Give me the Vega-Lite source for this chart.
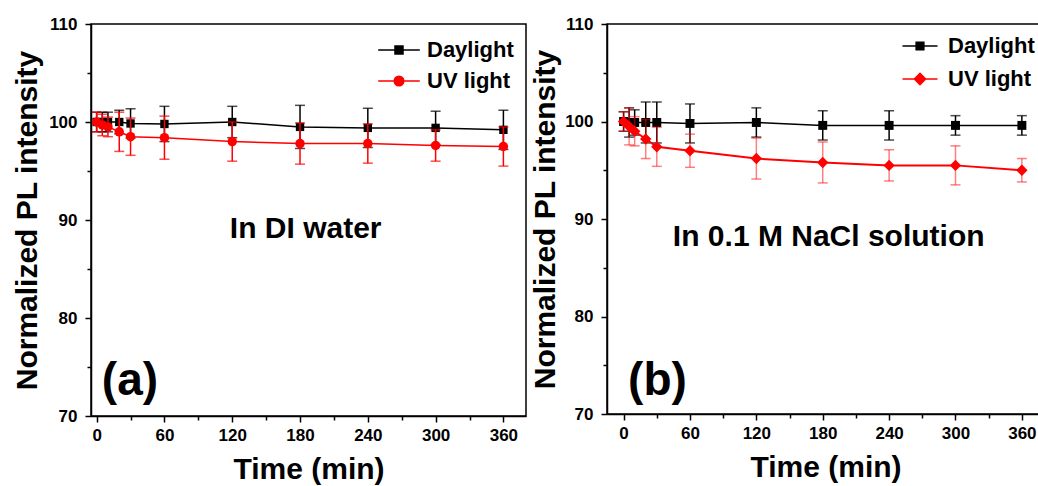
{
  "$schema": "https://vega.github.io/schema/vega-lite/v6.json",
  "background": "white",
  "padding": {"left": 11, "top": 14, "right": 0, "bottom": 0},
  "bounds": "flush",
  "spacing": 81,
  "resolve": {
    "scale": {"color": "independent", "shape": "independent", "stroke": "independent"},
    "legend": {"color": "independent", "shape": "independent", "stroke": "independent"}
  },
  "datasets": {
    "pl": [
      {"panel": "a", "series": "Daylight", "time": 0, "value": 100.0, "err": 1.0},
      {"panel": "a", "series": "Daylight", "time": 5, "value": 100.0, "err": 1.0},
      {"panel": "a", "series": "Daylight", "time": 10, "value": 100.0, "err": 1.0},
      {"panel": "a", "series": "Daylight", "time": 20, "value": 100.0, "err": 1.2},
      {"panel": "a", "series": "Daylight", "time": 30, "value": 99.85, "err": 1.5},
      {"panel": "a", "series": "Daylight", "time": 60, "value": 99.8, "err": 1.8},
      {"panel": "a", "series": "Daylight", "time": 120, "value": 100.0, "err": 1.6},
      {"panel": "a", "series": "Daylight", "time": 180, "value": 99.5, "err": 2.2},
      {"panel": "a", "series": "Daylight", "time": 240, "value": 99.4, "err": 2.0},
      {"panel": "a", "series": "Daylight", "time": 300, "value": 99.4, "err": 1.7},
      {"panel": "a", "series": "Daylight", "time": 360, "value": 99.2, "err": 2.0},
      {"panel": "a", "series": "UV light", "time": 0, "value": 100.0, "err": 1.0},
      {"panel": "a", "series": "UV light", "time": 5, "value": 99.7, "err": 1.1},
      {"panel": "a", "series": "UV light", "time": 10, "value": 99.5, "err": 1.0},
      {"panel": "a", "series": "UV light", "time": 20, "value": 99.0, "err": 2.0},
      {"panel": "a", "series": "UV light", "time": 30, "value": 98.5, "err": 1.9},
      {"panel": "a", "series": "UV light", "time": 60, "value": 98.4, "err": 2.2},
      {"panel": "a", "series": "UV light", "time": 120, "value": 98.0, "err": 2.0},
      {"panel": "a", "series": "UV light", "time": 180, "value": 97.8, "err": 2.1},
      {"panel": "a", "series": "UV light", "time": 240, "value": 97.8, "err": 2.0},
      {"panel": "a", "series": "UV light", "time": 300, "value": 97.6, "err": 1.6},
      {"panel": "a", "series": "UV light", "time": 360, "value": 97.5, "err": 2.0},
      {"panel": "a", "series": "note", "label": "In DI water", "time": 185, "value": 88.2},
      {"panel": "a", "series": "tag", "label": "(a)", "time": 29.5, "value": 72.1},
      {"panel": "b", "series": "Daylight", "time": 0, "value": 100.0, "err": 1.0},
      {"panel": "b", "series": "Daylight", "time": 5, "value": 99.9, "err": 1.5},
      {"panel": "b", "series": "Daylight", "time": 10, "value": 99.9, "err": 1.3},
      {"panel": "b", "series": "Daylight", "time": 20, "value": 99.9, "err": 2.1},
      {"panel": "b", "series": "Daylight", "time": 30, "value": 99.9, "err": 2.1},
      {"panel": "b", "series": "Daylight", "time": 60, "value": 99.8, "err": 2.0},
      {"panel": "b", "series": "Daylight", "time": 120, "value": 99.9, "err": 1.5},
      {"panel": "b", "series": "Daylight", "time": 180, "value": 99.6, "err": 1.5},
      {"panel": "b", "series": "Daylight", "time": 240, "value": 99.6, "err": 1.5},
      {"panel": "b", "series": "Daylight", "time": 300, "value": 99.6, "err": 1.0},
      {"panel": "b", "series": "Daylight", "time": 360, "value": 99.6, "err": 1.0},
      {"panel": "b", "series": "UV light", "time": 0, "value": 100.0, "err": 1.0},
      {"panel": "b", "series": "UV light", "time": 5, "value": 99.5, "err": 1.9},
      {"panel": "b", "series": "UV light", "time": 10, "value": 99.0, "err": 1.5},
      {"panel": "b", "series": "UV light", "time": 20, "value": 98.2, "err": 2.0},
      {"panel": "b", "series": "UV light", "time": 30, "value": 97.4, "err": 2.0},
      {"panel": "b", "series": "UV light", "time": 60, "value": 97.0, "err": 1.7},
      {"panel": "b", "series": "UV light", "time": 120, "value": 96.2, "err": 2.1},
      {"panel": "b", "series": "UV light", "time": 180, "value": 95.8, "err": 2.1},
      {"panel": "b", "series": "UV light", "time": 240, "value": 95.5, "err": 1.6},
      {"panel": "b", "series": "UV light", "time": 300, "value": 95.5, "err": 2.0},
      {"panel": "b", "series": "UV light", "time": 360, "value": 95.0, "err": 1.2},
      {"panel": "b", "series": "note", "label": "In 0.1 M NaCl solution", "time": 185.4, "value": 87.2},
      {"panel": "b", "series": "tag", "label": "(b)", "time": 30.6, "value": 72.0}
    ]
  },
  "config": {
    "font": "Liberation Sans",
    "view": {"stroke": "black", "strokeWidth": 1.5},
    "axis": {
      "grid": false,
      "domainColor": "black",
      "domainWidth": 1.5,
      "tickColor": "black",
      "tickWidth": 1.5,
      "labelFont": "Liberation Sans",
      "labelFontSize": 17,
      "labelFontWeight": "bold",
      "labelColor": "black",
      "titleFont": "Liberation Sans",
      "titleFontSize": 30,
      "titleFontWeight": "bold",
      "titleColor": "black"
    },
    "legend": {
      "title": null,
      "padding": 0,
      "labelFont": "Liberation Sans",
      "labelFontSize": 22,
      "labelFontWeight": "bold",
      "labelColor": "black",
      "symbolStrokeWidth": 1.5,
      "labelOffset": 17
    }
  },
  "hconcat": [
    {
      "width": 435,
      "height": 392,
      "data": {"name": "pl"},
      "transform": [{"filter": "datum.panel === 'a'"}],
      "encoding": {
        "x": {
          "field": "time", "type": "quantitative",
          "scale": {"domain": [-5, 380], "nice": false, "zero": false},
          "axis": {
            "title": "Time (min)",
            "values": [0, 30, 60, 90, 120, 150, 180, 210, 240, 270, 300, 330, 360],
            "labelExpr": "datum.value % 60 === 0 ? datum.label : ''",
            "tickSize": {"condition": {"test": "datum.value % 60 === 0", "value": 6}, "value": 4},
            "labelPadding": 5,
            "titlePadding": 11,
            "labelFlush": false
          }
        },
        "y": {
          "field": "value", "type": "quantitative",
          "scale": {"domain": [70, 110], "nice": false, "zero": false},
          "axis": {
            "title": "Normalized PL intensity",
            "values": [70, 75, 80, 85, 90, 95, 100, 105, 110],
            "labelExpr": "datum.value % 10 === 0 ? datum.label : ''",
            "tickSize": {"condition": {"test": "datum.value % 10 === 0", "value": 6}, "value": 4},
            "labelPadding": 8,
            "titlePadding": 6,
            "labelFlush": false
          }
        }
      },
      "layer": [
        {
          "transform": [{"filter": "datum.series === 'Daylight'"}],
          "mark": {"type": "line", "color": "black", "strokeWidth": 1.5}
        },
        {
          "transform": [{"filter": "datum.series === 'Daylight'"}],
          "mark": {"type": "errorbar", "ticks": {"size": 10}, "color": "black", "thickness": 1.5},
          "encoding": {"yError": {"field": "err"}}
        },
        {
          "transform": [{"filter": "datum.series === 'Daylight'"}],
          "mark": {"type": "point", "shape": "square", "filled": true, "color": "black", "size": 70, "opacity": 1}
        },
        {
          "transform": [{"filter": "datum.series === 'UV light'"}],
          "mark": {"type": "line", "color": "#ff0000", "strokeWidth": 1.5}
        },
        {
          "transform": [{"filter": "datum.series === 'UV light'"}],
          "mark": {"type": "errorbar", "ticks": {"size": 10}, "color": "#ff0000", "thickness": 1.5},
          "encoding": {"yError": {"field": "err"}}
        },
        {
          "transform": [{"filter": "datum.series === 'UV light'"}],
          "mark": {"type": "point", "shape": "circle", "filled": true, "color": "#ff0000", "size": 90, "opacity": 1}
        },
        {
          "transform": [{"filter": "false"}],
          "mark": {"type": "point", "filled": true, "opacity": 1, "strokeWidth": 1.5},
          "encoding": {
            "color": {
              "field": "series", "type": "nominal",
              "scale": {"domain": ["Daylight", "UV light"], "range": ["black", "#ff0000"]},
              "legend": {"orient": "none", "legendX": 297, "legendY": 15, "symbolSize": 256, "rowPadding": 9}
            },
            "stroke": {
              "field": "series", "type": "nominal",
              "scale": {"domain": ["Daylight", "UV light"], "range": ["black", "#ff0000"]},
              "legend": {"orient": "none", "legendX": 297, "legendY": 15, "symbolSize": 256, "rowPadding": 9}
            },
            "shape": {
              "field": "series", "type": "nominal",
              "scale": {"domain": ["Daylight", "UV light"], "range": [
                "M-2.6,0H2.6M-0.5,-0.5H0.5V0.5H-0.5Z",
                "M-2.6,0H2.6M0.6,0A0.6,0.6 0 1,1 -0.6,0A0.6,0.6 0 1,1 0.6,0Z"
              ]},
              "legend": {"orient": "none", "legendX": 297, "legendY": 15, "symbolSize": 256, "rowPadding": 9}
            }
          }
        },
        {
          "transform": [{"filter": "datum.series === 'note'"}],
          "mark": {"type": "text", "fontSize": 30, "fontWeight": "bold", "font": "Liberation Sans", "align": "center", "baseline": "alphabetic", "color": "black"},
          "encoding": {"text": {"field": "label"}}
        },
        {
          "transform": [{"filter": "datum.series === 'tag'"}],
          "mark": {"type": "text", "fontSize": 46, "fontWeight": "bold", "font": "Liberation Sans", "align": "center", "baseline": "alphabetic", "color": "black"},
          "encoding": {"text": {"field": "label"}}
        }
      ]
    },
    {
      "width": 437,
      "height": 390,
      "data": {"name": "pl"},
      "transform": [{"filter": "datum.panel === 'b'"}],
      "encoding": {
        "x": {
          "field": "time", "type": "quantitative",
          "scale": {"domain": [-15, 380], "nice": false, "zero": false},
          "axis": {
            "title": "Time (min)",
            "values": [0, 30, 60, 90, 120, 150, 180, 210, 240, 270, 300, 330, 360],
            "labelExpr": "datum.value % 60 === 0 ? datum.label : ''",
            "tickSize": {"condition": {"test": "datum.value % 60 === 0", "value": 6}, "value": 4},
            "labelPadding": 5,
            "titlePadding": 11,
            "labelFlush": false
          }
        },
        "y": {
          "field": "value", "type": "quantitative",
          "scale": {"domain": [70, 110], "nice": false, "zero": false},
          "axis": {
            "title": "Normalized PL intensity",
            "values": [70, 75, 80, 85, 90, 95, 100, 105, 110],
            "labelExpr": "datum.value % 10 === 0 ? datum.label : ''",
            "tickSize": {"condition": {"test": "datum.value % 10 === 0", "value": 6}, "value": 4},
            "labelPadding": 8,
            "titlePadding": 4,
            "labelFlush": false
          }
        }
      },
      "layer": [
        {
          "transform": [{"filter": "datum.series === 'Daylight'"}],
          "mark": {"type": "line", "color": "black", "strokeWidth": 1.5}
        },
        {
          "transform": [{"filter": "datum.series === 'Daylight'"}],
          "mark": {"type": "errorbar", "ticks": {"size": 10}, "color": "black", "thickness": 1.5},
          "encoding": {"yError": {"field": "err"}}
        },
        {
          "transform": [{"filter": "datum.series === 'Daylight'"}],
          "mark": {"type": "point", "shape": "square", "filled": true, "color": "black", "size": 80, "opacity": 1}
        },
        {
          "transform": [{"filter": "datum.series === 'UV light'"}],
          "mark": {"type": "line", "color": "#ff0000", "strokeWidth": 2}
        },
        {
          "transform": [{"filter": "datum.series === 'UV light'"}],
          "mark": {"type": "errorbar", "ticks": {"size": 10}, "color": "#ff0000", "thickness": 1.5, "opacity": 0.5},
          "encoding": {"yError": {"field": "err"}}
        },
        {
          "transform": [{"filter": "datum.series === 'UV light'"}],
          "mark": {"type": "point", "shape": "diamond", "filled": true, "color": "#ff0000", "size": 130, "opacity": 1}
        },
        {
          "transform": [{"filter": "false"}],
          "mark": {"type": "point", "filled": true, "opacity": 1, "strokeWidth": 1.5},
          "encoding": {
            "color": {
              "field": "series", "type": "nominal",
              "scale": {"domain": ["Daylight", "UV light"], "range": ["black", "#ff0000"]},
              "legend": {"orient": "none", "legendX": 302, "legendY": 11, "symbolSize": 196, "rowPadding": 11}
            },
            "stroke": {
              "field": "series", "type": "nominal",
              "scale": {"domain": ["Daylight", "UV light"], "range": ["black", "#ff0000"]},
              "legend": {"orient": "none", "legendX": 302, "legendY": 11, "symbolSize": 196, "rowPadding": 11}
            },
            "shape": {
              "field": "series", "type": "nominal",
              "scale": {"domain": ["Daylight", "UV light"], "range": [
                "M-2.5,0H2.5M-0.55,-0.55H0.55V0.55H-0.55Z",
                "M-2.5,0H2.5M0,-0.8L0.8,0L0,0.8L-0.8,0Z"
              ]},
              "legend": {"orient": "none", "legendX": 302, "legendY": 11, "symbolSize": 196, "rowPadding": 11}
            }
          }
        },
        {
          "transform": [{"filter": "datum.series === 'note'"}],
          "mark": {"type": "text", "fontSize": 30, "fontWeight": "bold", "font": "Liberation Sans", "align": "center", "baseline": "alphabetic", "color": "black"},
          "encoding": {"text": {"field": "label"}}
        },
        {
          "transform": [{"filter": "datum.series === 'tag'"}],
          "mark": {"type": "text", "fontSize": 46, "fontWeight": "bold", "font": "Liberation Sans", "align": "center", "baseline": "alphabetic", "color": "black"},
          "encoding": {"text": {"field": "label"}}
        }
      ]
    }
  ]
}
